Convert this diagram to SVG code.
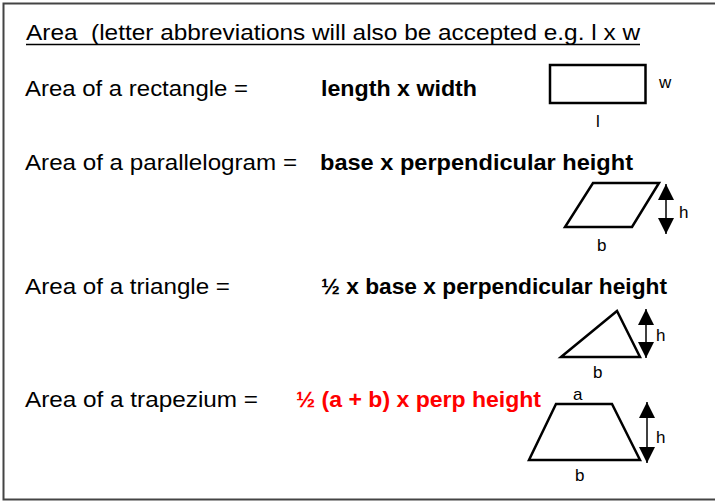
<svg xmlns="http://www.w3.org/2000/svg" width="715" height="502" viewBox="0 0 715 502">
<style>
.t{font-family:"Liberation Sans",Arial,sans-serif;font-size:22px;fill:#000}
.b{font-weight:bold}
.s{font-family:"Liberation Sans",Arial,sans-serif;font-size:17px;fill:#000}
.shape{fill:#fff;stroke:#000;stroke-width:2.5;stroke-linejoin:miter}
.arr{stroke:#000;stroke-width:1.5}
</style>
<defs>
<marker id="big" viewBox="0 0 16 16" refX="16" refY="8" markerWidth="16" markerHeight="16" markerUnits="userSpaceOnUse" orient="auto-start-reverse">
<path d="M0,0 L16,8 L0,16 z" fill="#000"/>
</marker>
</defs>
<rect x="3.5" y="3.5" width="720" height="496" fill="#fff" stroke="#444" stroke-width="2"/>
<g id="title">
<text class="t" x="26" y="40" textLength="614" lengthAdjust="spacingAndGlyphs" xml:space="preserve">Area  (letter abbreviations will also be accepted e.g. l x w</text>
<line x1="26" y1="44.5" x2="640" y2="44.5" stroke="#000" stroke-width="1.5"/>
</g>
<g id="rectangle">
<text class="t" x="25" y="96" textLength="223" lengthAdjust="spacingAndGlyphs">Area of a rectangle =</text>
<text class="t b" x="321" y="96" textLength="156" lengthAdjust="spacingAndGlyphs">length x width</text>
<rect class="shape" x="550" y="65" width="95.5" height="38"/>
<text class="s" x="659" y="88">w</text>
<text class="s" x="596" y="127">l</text>
</g>
<g id="parallelogram">
<text class="t" x="25" y="170" textLength="272" lengthAdjust="spacingAndGlyphs">Area of a parallelogram =</text>
<text class="t b" x="320" y="170" textLength="313" lengthAdjust="spacingAndGlyphs">base x perpendicular height</text>
<polygon class="shape" points="593,183 659,183 632,227 565,227"/>
<text class="s" x="679" y="218">h</text>
<text class="s" x="597" y="251">b</text>
</g>
<g id="triangle">
<text class="t" x="25" y="294" textLength="205" lengthAdjust="spacingAndGlyphs">Area of a triangle =</text>
<text class="t b" x="321" y="294" textLength="346" lengthAdjust="spacingAndGlyphs">½ x base x perpendicular height</text>
<polygon class="shape" points="561,357 617,311 640,357"/>
<text class="s" x="656" y="341">h</text>
<text class="s" x="593" y="378">b</text>
</g>
<g id="trapezium">
<text class="t" x="25" y="407" textLength="233" lengthAdjust="spacingAndGlyphs">Area of a trapezium =</text>
<text class="t b" x="296" y="407" textLength="245" lengthAdjust="spacingAndGlyphs" style="fill:#f00">½ (a + b) x perp height</text>
<polygon class="shape" points="556,404 612,404 640,460 529,460"/>
<text class="s" x="573" y="400">a</text>
<text class="s" x="656" y="443">h</text>
<text class="s" x="575" y="481">b</text>
</g>
<g id="connectors">
<line class="arr" x1="666" y1="184" x2="666" y2="234" marker-start="url(#big)" marker-end="url(#big)"/>
<line class="arr" x1="646" y1="309" x2="646" y2="358" marker-start="url(#big)" marker-end="url(#big)"/>
<line class="arr" x1="647" y1="402" x2="647" y2="463" marker-start="url(#big)" marker-end="url(#big)"/>
</g>
</svg>
